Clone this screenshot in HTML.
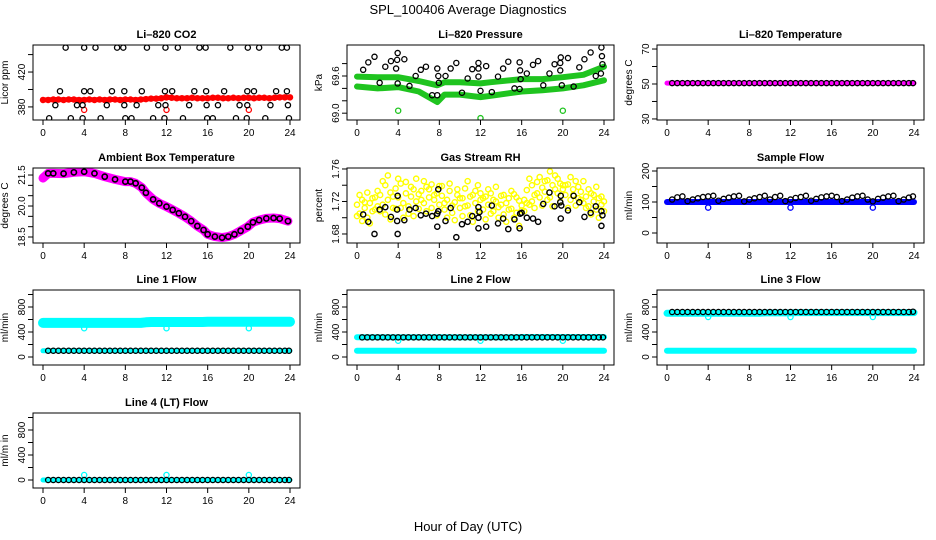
<!DOCTYPE html>
<html><head><meta charset="utf-8"><title>SPL_100406 Average Diagnostics</title>
<style>
html,body{margin:0;padding:0;background:#fff;}
svg{display:block;font-family:"Liberation Sans",Arial,sans-serif;}
</style></head>
<body>
<svg id="chart" width="936" height="540" viewBox="0 0 936 540" xmlns="http://www.w3.org/2000/svg">
<rect x="0" y="0" width="936" height="540" fill="#fff"/>
<text x="468" y="14" text-anchor="middle" font-size="13">SPL_100406  Average Diagnostics</text>
<text x="468" y="531" text-anchor="middle" font-size="13">Hour of Day (UTC)</text>
</svg>
<script>
// ---------- categories ----------
const halfHours = [0,0.5,1,1.5,2,2.5,3,3.5,4,4.5,5,5.5,6,6.5,7,7.5,8,8.5,9,9.5,10,10.5,11,11.5,12,12.5,13,13.5,14,14.5,15,15.5,16,16.5,17,17.5,18,18.5,19,19.5,20,20.5,21,21.5,22,22.5,23,23.5,24];
const chainHours = [0.5,1,1.5,2,2.5,3,3.5,4,4.5,5,5.5,6,6.5,7,7.5,8,8.5,9,9.5,10,10.5,11,11.5,12,12.5,13,13.5,14,14.5,15,15.5,16,16.5,17,17.5,18,18.5,19,19.5,20,20.5,21,21.5,22,22.5,23,23.5,23.9];
const quarterHours = [0,0.25,0.5,0.75,1,1.25,1.5,1.75,2,2.25,2.5,2.75,3,3.25,3.5,3.75,4,4.25,4.5,4.75,5,5.25,5.5,5.75,6,6.25,6.5,6.75,7,7.25,7.5,7.75,8,8.25,8.5,8.75,9,9.25,9.5,9.75,10,10.25,10.5,10.75,11,11.25,11.5,11.75,12,12.25,12.5,12.75,13,13.25,13.5,13.75,14,14.25,14.5,14.75,15,15.25,15.5,15.75,16,16.25,16.5,16.75,17,17.25,17.5,17.75,18,18.25,18.5,18.75,19,19.25,19.5,19.75,20,20.25,20.5,20.75,21,21.25,21.5,21.75,22,22.25,22.5,22.75,23,23.25,23.5,23.75,24];
const outlierHours = [4,12,20];
const xTicks = [0,4,8,12,16,20,24];

// ---------- CO2 ----------
const co2Red = [388,388,388.5,388.5,388,388.5,388.5,388,388,388.5,388,388.5,388,388.5,388.5,388,388.5,388.5,388,388.5,389,389.5,389.5,390,391,390.5,390,390,390,390.5,390,390,390,390.5,390.5,390,390,390.5,390,390.5,390.5,390,390.5,390.5,390,390.5,391,391,391];
const co2RedOut = [376.6,376.6,376.6];
const co2HiHours = [2.2,4.0,5.1,7.2,7.8,10.1,11.9,13.1,15.2,15.8,18.2,19.9,21.0,23.2,23.7];
const co2HiVals = [448,448,448,448,448,448,448,448,448,448,448,448,448,448,448];
const co2MidHours = [1.65,4.0,4.6,6.7,7.9,9.6,11.85,12.55,14.7,15.85,17.6,19.85,20.5,22.65,23.7];
const co2MidVals = [398,398,398,398,398,398,398,398,398,398,398,398,398,398,398];
const co2LowHours = [1.2,3.3,3.85,6.2,7.9,9.1,11.2,11.9,14.2,15.9,17.0,19.1,19.85,22.1,23.8];
const co2LowVals = [382,382,382,382,382,382,382,382,382,382,382,382,382,382,382];
const co2BotHours = [0.6,2.7,3.85,5.6,8.0,8.6,10.7,11.8,13.6,15.95,16.5,18.75,19.8,21.6,23.9];
const co2BotVals = [367,367,367,367,367,367,367,367,367,367,367,367,367,367,367];

// ---------- Pressure ----------
const presHours = [0,2,4,6,7.8,8.5,10,12,13,16,18,20,22,24];
const presUpper = [69.59,69.58,69.58,69.52,69.45,69.50,69.50,69.48,69.50,69.55,69.55,69.58,69.62,69.75];
const presLower = [69.43,69.40,69.42,69.35,69.18,69.30,69.30,69.26,69.28,69.35,69.37,69.40,69.45,69.53];
const presGreenOut = [69.04,68.92,69.04];
const presBlackHours = [0.6,1.1,1.7,2.2,2.75,3.3,3.9,3.95,3.8,3.95,4.6,5.1,5.7,6.2,6.7,7.3,7.8,7.8,7.9,7.95,8.6,9.1,9.65,10.2,10.75,11.2,11.8,11.8,11.8,12.0,12.55,13.1,13.7,14.2,14.7,15.3,15.8,15.85,15.9,15.8,16.5,17.1,17.6,18.1,18.7,19.2,19.75,19.8,19.75,19.9,20.5,21.05,21.6,22.1,22.7,23.2,23.7,23.75,23.8,23.85];
const presBlackVals = [69.70,69.82,69.91,69.49,69.75,69.84,69.86,69.97,69.72,69.48,69.87,69.44,69.60,69.70,69.75,69.29,69.29,69.72,69.60,69.49,69.60,69.72,69.81,69.33,69.56,69.71,69.81,69.72,69.59,69.36,69.76,69.34,69.59,69.72,69.83,69.40,69.82,69.69,69.55,69.39,69.64,69.78,69.84,69.45,69.64,69.79,69.81,69.90,69.69,69.45,69.89,69.43,69.74,69.87,69.98,69.60,69.64,70.06,69.92,69.79];

// ---------- Li-820 temperature ----------
const tempMag = [50.5,50.5,50.5,50.5,50.5,50.5,50.5,50.5,50.5,50.5,50.5,50.5,50.5,50.5,50.5,50.5,50.5,50.5,50.5,50.5,50.5,50.5,50.5,50.5,50.5,50.5,50.5,50.5,50.5,50.5,50.5,50.5,50.5,50.5,50.5,50.5,50.5,50.5,50.5,50.5,50.5,50.5,50.5,50.5,50.5,50.5,50.5,50.5,50.5];
const tempBlack = [50.5,50.5,50.5,50.5,50.5,50.5,50.5,50.5,50.5,50.5,50.5,50.5,50.5,50.5,50.5,50.5,50.5,50.5,50.5,50.5,50.5,50.5,50.5,50.5,50.5,50.5,50.5,50.5,50.5,50.5,50.5,50.5,50.5,50.5,50.5,50.5,50.5,50.5,50.5,50.5,50.5,50.5,50.5,50.5,50.5,50.5,50.5,50.5];

// ---------- Ambient box temperature ----------
const ambHours = [0,0.5,1,2,3,4,5,6,7,8,8.5,9,9.6,10,10.7,11.3,12,12.6,13.2,13.8,14.4,15,15.6,16,16.7,17.4,18,18.6,19.2,19.9,20.4,21,21.7,22.4,23,23.8];
const ambVals = [21.35,21.58,21.58,21.57,21.63,21.66,21.58,21.42,21.29,21.18,21.18,21.10,20.89,20.64,20.32,20.13,19.97,19.81,19.65,19.48,19.27,19.03,18.84,18.63,18.52,18.47,18.52,18.63,18.80,19.00,19.21,19.32,19.40,19.42,19.39,19.27];

// ---------- Gas stream RH ----------
const rhYellowA = [1.716,1.705,1.722,1.712,1.700,1.718,1.708,1.725,1.714,
1.728,1.716,1.740,1.722,1.731,1.712,1.736,1.725,
1.742,1.718,1.730,1.714,1.726,1.735,1.720,1.729,
1.733,1.718,1.738,1.725,1.741,1.722,1.730,1.716,
1.727,1.710,1.722,1.733,1.706,1.719,1.728,1.712,
1.724,1.736,1.715,1.703,1.728,1.718,1.740,1.722,
1.710,1.726,1.716,1.730,1.708,1.720,1.713,1.727,
1.704,1.718,1.724,1.711,1.729,1.706,1.721,1.715,
1.722,1.734,1.716,1.740,1.728,1.744,1.725,1.737,
1.732,1.746,1.725,1.740,1.752,1.730,1.742,1.735,
1.728,1.741,1.722,1.735,1.745,1.724,1.732,1.718,
1.726,1.714,1.730,1.720,1.710,1.724,1.716,1.720];
const rhYellowB = [1.702,1.728,1.696,1.719,1.731,1.693,1.724,1.710,1.733,
1.708,1.745,1.704,1.752,1.698,1.726,1.711,1.748,
1.712,1.700,1.744,1.705,1.738,1.702,1.748,1.711,
1.722,1.745,1.708,1.735,1.712,1.728,1.703,1.739,
1.739,1.718,1.700,1.742,1.715,1.697,1.735,1.724,
1.702,1.714,1.745,1.726,1.695,1.733,1.708,1.730,
1.724,1.698,1.735,1.705,1.722,1.738,1.700,1.716,
1.728,1.695,1.710,1.733,1.700,1.725,1.690,1.709,
1.708,1.718,1.748,1.720,1.712,1.730,1.750,1.715,
1.745,1.722,1.757,1.714,1.735,1.748,1.720,1.740,
1.740,1.712,1.750,1.728,1.715,1.738,1.722,1.745,
1.712,1.735,1.704,1.728,1.738,1.700,1.726,1.708];
const rhBlackHours = [0.6,1.1,1.7,2.2,2.75,3.3,3.9,3.9,3.95,3.95,4.6,5.1,5.7,6.2,6.7,7.3,7.8,7.8,7.9,7.9,8.6,9.1,9.65,10.2,10.75,11.2,11.8,11.8,11.8,11.9,12.55,13.1,13.7,14.2,14.7,15.3,15.8,15.85,16.0,16.5,17.1,17.6,18.1,18.7,19.2,19.75,19.8,19.85,19.8,20.5,21.05,21.6,22.1,22.7,23.2,23.75,23.85,23.75];
const rhBlackVals = [1.704,1.695,1.680,1.710,1.713,1.701,1.696,1.710,1.727,1.680,1.697,1.710,1.712,1.703,1.705,1.702,1.705,1.689,1.735,1.708,1.696,1.712,1.676,1.692,1.695,1.702,1.713,1.700,1.687,1.707,1.689,1.715,1.693,1.699,1.686,1.698,1.687,1.705,1.706,1.700,1.699,1.695,1.717,1.731,1.714,1.719,1.727,1.715,1.699,1.709,1.727,1.719,1.701,1.706,1.714,1.708,1.703,1.690];

// ---------- Sample flow ----------
const sampleBlue = [100,100,100,100,100,100,100,100,100,100,100,100,100,100,100,100,100,100,100,100,100,100,100,100,100,100,100,100,100,100,100,100,100,100,100,100,100,100,100,100,100,100,100,100,100,100,100,100,100];
const sampleBlueOut = [82,82,82];
const sampleBlack = [108,115,118,103,108,112,116,118,120,104,110,114,118,120,102,108,112,116,120,108,116,120,103,108,113,116,120,104,110,115,118,120,116,103,108,114,118,120,108,102,110,114,118,120,103,108,114,118];

// ---------- Line flows ----------
const line1CyanHi = [545,545,545,545,545,545,545,545,545,545,545,545,545,545,545,545,545,545,545,545,555,560,560,560,560,560,560,560,560,560,560,560,565,565,565,565,565,565,565,565,565,565,565,565,565,565,565,565,565];
const line1CyanLo = [100,100,100,100,100,100,100,100,100,100,100,100,100,100,100,100,100,100,100,100,100,100,100,100,100,100,100,100,100,100,100,100,100,100,100,100,100,100,100,100,100,100,100,100,100,100,100,100,100];
const line1CyanOut = [460,460,460];
const line1Black = [100,100,100,100,100,100,100,100,100,100,100,100,100,100,100,100,100,100,100,100,100,100,100,100,100,100,100,100,100,100,100,100,100,100,100,100,100,100,100,100,100,100,100,100,100,100,100,100];

const line2CyanHi = [315,315,315,315,315,315,315,315,315,315,315,315,315,315,315,315,315,315,315,315,315,315,315,315,315,315,315,315,315,315,315,315,320,320,320,320,320,320,320,320,320,320,320,320,320,320,320,320,320];
const line2CyanLo = [100,100,100,100,100,100,100,100,100,100,100,100,100,100,100,100,100,100,100,100,100,100,100,100,100,100,100,100,100,100,100,100,100,100,100,100,100,100,100,100,100,100,100,100,100,100,100,100,100];
const line2CyanOut = [260,260,260];
const line2Black = [315,315,315,315,315,315,315,315,315,315,315,315,315,315,315,315,315,315,315,315,315,315,315,315,315,315,315,315,315,315,315,315,315,315,315,315,315,315,315,315,315,315,315,315,315,315,315,315];

const line3CyanHi = [700,700,700,700,700,700,700,700,700,700,700,700,700,700,700,700,700,700,700,705,705,705,705,705,705,710,710,710,710,710,710,710,710,710,710,710,710,710,710,710,710,710,710,710,710,710,710,710,710];
const line3CyanLo = [100,100,100,100,100,100,100,100,100,100,100,100,100,100,100,100,100,100,100,100,100,100,100,100,100,100,100,100,100,100,100,100,100,100,100,100,100,100,100,100,100,100,100,100,100,100,100,100,100];
const line3CyanOut = [640,640,640];
const line3Black = [720,720,720,720,720,720,720,720,720,720,720,720,720,720,720,720,720,720,720,720,720,720,720,720,720,720,720,720,720,720,720,720,720,720,720,720,720,720,720,720,720,720,720,720,720,720,720,725];

const line4Cyan = [0,0,0,0,0,0,0,0,0,0,0,0,0,0,0,0,0,0,0,0,0,0,0,0,0,0,0,0,0,0,0,0,0,0,0,0,0,0,0,0,0,0,0,0,0,0,0,0,0];
const line4CyanOut = [80,80,80];
const line4Black = [0,0,0,0,0,0,0,0,0,0,0,0,0,0,0,0,0,0,0,0,0,0,0,0,0,0,0,0,0,0,0,0,0,0,0,0,0,0,0,0,0,0,0,0,0,0,0,0];

// ---------- y ticks ----------
const co2Ticks = [380,400,420,440];       const co2Labels = ["380","","420",""];
const presTicks = [69.0,69.2,69.4,69.6,69.8]; const presLabels = ["69.0","","","69.6",""];
const tempTicks = [30,40,50,60,70];       const tempLabels = ["30","","50","","70"];
const ambTicks = [18.5,19,19.5,20,20.5,21,21.5]; const ambLabels = ["18.5","","","20.0","","","21.5"];
const rhTicks = [1.68,1.70,1.72,1.74,1.76]; const rhLabels = ["1.68","","1.72","","1.76"];
const sampleTicks = [0,50,100,150,200];   const sampleLabels = ["0","","100","","200"];
const flowTicks = [0,200,400,600,800,1000]; const flowLabels = ["0","","400","","800",""];

// ---------- drawing ----------
const NS = "http://www.w3.org/2000/svg";
const svg = document.getElementById("chart");
const colLeft = [33, 347, 657];
const rowTop = [45, 168, 290, 413];
const PW = 267, PH = 75;
let clipId = 0;

function mk(tag, attrs, parent) {
  const e = document.createElementNS(NS, tag);
  for (const k in attrs) e.setAttribute(k, attrs[k]);
  (parent || svg).appendChild(e);
  return e;
}

function makePanel(name, col, row, title, ylab, ylo, yhi, yTicks, yLabels) {
  const left = colLeft[col], top = rowTop[row];
  const g = mk("g", {});
  
  
  const p = { left, top, ylo, yhi, g };
  p.x = h => left + 10 + h * (247 / 24);
  p.y = v => top + PH * (yhi - v) / (yhi - ylo);
  const id = "clip" + (clipId++);
  const cp = mk("clipPath", { id }, g);
  mk("rect", { x: left, y: top, width: PW, height: PH }, cp);
  const t = mk("text", { x: left + PW / 2, y: top - 7, "text-anchor": "middle", "font-size": "11", "font-weight": "bold" }, g);
  t.textContent = title;
  
  
  const yl = mk("text", { transform: `translate(${left - 25},${top + PH / 2}) rotate(-90)`, "text-anchor": "middle", "font-size": "10" }, g);
  yl.textContent = ylab;
  
  
  // x axis
  const xa = mk("g", {}, g);
  
  
  xTicks.forEach(h => {
    mk("line", { x1: p.x(h), x2: p.x(h), y1: top + PH, y2: top + PH + 5, stroke: "#000", "stroke-width": 1 }, xa);
    const tl = mk("text", { x: p.x(h), y: top + PH + 16, "text-anchor": "middle", "font-size": "10" }, xa);
    tl.textContent = String(h);
  });
  // y axis
  const ya = mk("g", {}, g);
  
  
  yTicks.forEach((v, i) => {
    const yy = p.y(v);
    mk("line", { x1: left - 5, x2: left, y1: yy, y2: yy, stroke: "#000", "stroke-width": 1 }, ya);
    if (yLabels[i]) {
      const tl = mk("text", { transform: `translate(${left - 8},${yy}) rotate(-90)`, "text-anchor": "middle", "font-size": "10" }, ya);
      tl.textContent = yLabels[i];
    }
  });
  p.plot = mk("g", { "clip-path": `url(#${id})` }, g);
  mk("rect", { x: left, y: top, width: PW, height: PH, fill: "none", stroke: "#000", "stroke-width": 1 }, g);
  return p;
}

function band(p, name, hours, vals, color, w) {
  const n = Math.min(hours.length, vals.length);
  const pts = [];
  for (let i = 0; i < n; i++) pts.push(p.x(hours[i]).toFixed(1) + "," + p.y(vals[i]).toFixed(1));
  const pl = mk("polyline", { points: pts.join(" "), fill: "none", stroke: color, "stroke-width": w, "stroke-linejoin": "round", "stroke-linecap": "round" }, p.plot);
  
  
}

function points(p, name, hours, vals, color, r, sw) {
  const g = mk("g", {}, p.plot);
  
  
  const n = Math.min(hours.length, vals.length);
  for (let i = 0; i < n; i++) {
    mk("circle", { cx: p.x(hours[i]), cy: p.y(vals[i]), r: r || 2.6, fill: "none", stroke: color, "stroke-width": sw || 1.3 }, g);
  }
}

// Panel 1: CO2
const p1 = makePanel("co2", 0, 0, "Li\u2013820 CO2", "Licor ppm", 365, 451, co2Ticks, co2Labels);
band(p1, "co2-licor-band", halfHours, co2Red, "#f00", 5);
points(p1, "co2-licor-points", halfHours, co2Red, "#f00", 2.6, 1.3);
points(p1, "co2-licor-outliers", outlierHours, co2RedOut, "#f00");
points(p1, "co2-ref-high", co2HiHours, co2HiVals, "#000");
points(p1, "co2-ref-mid", co2MidHours, co2MidVals, "#000");
points(p1, "co2-ref-low", co2LowHours, co2LowVals, "#000");
points(p1, "co2-ref-bottom", co2BotHours, co2BotVals, "#000");

// Panel 2: Pressure
const p2 = makePanel("pressure", 1, 0, "Li\u2013820 Pressure", "kPa", 68.89, 70.10, presTicks, presLabels);
band(p2, "pressure-upper-band", presHours, presUpper, "#1fc41f", 6);
band(p2, "pressure-lower-band", presHours, presLower, "#1fc41f", 6);
points(p2, "pressure-outliers", outlierHours, presGreenOut, "#1fc41f");
points(p2, "pressure-black-points", presBlackHours, presBlackVals, "#000");

// Panel 3: Temperature
const p3 = makePanel("li820-temp", 2, 0, "Li\u2013820 Temperature", "degrees C", 29.4, 72.3, tempTicks, tempLabels);
band(p3, "li820-temp-band", halfHours, tempMag, "#f0f", 5);
points(p3, "li820-temp-black", chainHours, tempBlack, "#000");

// Panel 4: Ambient
const p4 = makePanel("ambient-temp", 0, 1, "Ambient Box Temperature", "degrees C", 18.21, 21.84, ambTicks, ambLabels);
band(p4, "ambient-temp-band", ambHours, ambVals, "#f0f", 9);
points(p4, "ambient-temp-black", ambHours.slice(1), ambVals.slice(1), "#000", 2.6, 1.6);

// Panel 5: RH
const p5 = makePanel("rh", 1, 1, "Gas Stream RH", "percent", 1.6689, 1.7612, rhTicks, rhLabels);
points(p5, "rh-yellow-a", quarterHours, rhYellowA, "#ff0", 2.6, 1.4);
points(p5, "rh-yellow-b", quarterHours, rhYellowB, "#ff0", 2.6, 1.4);
points(p5, "rh-black", rhBlackHours, rhBlackVals, "#000", 2.6, 1.4);

// Panel 6: Sample flow
const p6 = makePanel("sample-flow", 2, 1, "Sample Flow", "ml/min", -32.3, 209.7, sampleTicks, sampleLabels);
band(p6, "sample-flow-band", halfHours, sampleBlue, "#00f", 6);
points(p6, "sample-flow-outliers", outlierHours, sampleBlueOut, "#00f");
points(p6, "sample-flow-black", chainHours, sampleBlack, "#000");

// Panel 7: Line 1
const p7 = makePanel("line1-flow", 0, 2, "Line 1 Flow", "ml/min", -128, 1072, flowTicks, flowLabels);
band(p7, "line1-cyan-high", halfHours, line1CyanHi, "#0ff", 10);
band(p7, "line1-cyan-low", halfHours, line1CyanLo, "#0ff", 5);
points(p7, "line1-cyan-outliers", outlierHours, line1CyanOut, "#0ff");
points(p7, "line1-black", chainHours, line1Black, "#000");

// Panel 8: Line 2
const p8 = makePanel("line2-flow", 1, 2, "Line 2 Flow", "ml/min", -128, 1072, flowTicks, flowLabels);
band(p8, "line2-cyan-high", halfHours, line2CyanHi, "#0ff", 6);
band(p8, "line2-cyan-low", halfHours, line2CyanLo, "#0ff", 6);
points(p8, "line2-cyan-outliers", outlierHours, line2CyanOut, "#0ff");
points(p8, "line2-black", chainHours, line2Black, "#000");

// Panel 9: Line 3
const p9 = makePanel("line3-flow", 2, 2, "Line 3 Flow", "ml/min", -128, 1072, flowTicks, flowLabels);
band(p9, "line3-cyan-high", halfHours, line3CyanHi, "#0ff", 7);
band(p9, "line3-cyan-low", halfHours, line3CyanLo, "#0ff", 6);
points(p9, "line3-cyan-outliers", outlierHours, line3CyanOut, "#0ff");
points(p9, "line3-black", chainHours, line3Black, "#000");

// Panel 10: Line 4
const p10 = makePanel("line4-flow", 0, 3, "Line 4 (LT) Flow", "ml/m in", -128, 1072, flowTicks, flowLabels);
band(p10, "line4-cyan", halfHours, line4Cyan, "#0ff", 5);
points(p10, "line4-cyan-outliers", outlierHours, line4CyanOut, "#0ff");
points(p10, "line4-black", chainHours, line4Black, "#000");
</script>
</body></html>
